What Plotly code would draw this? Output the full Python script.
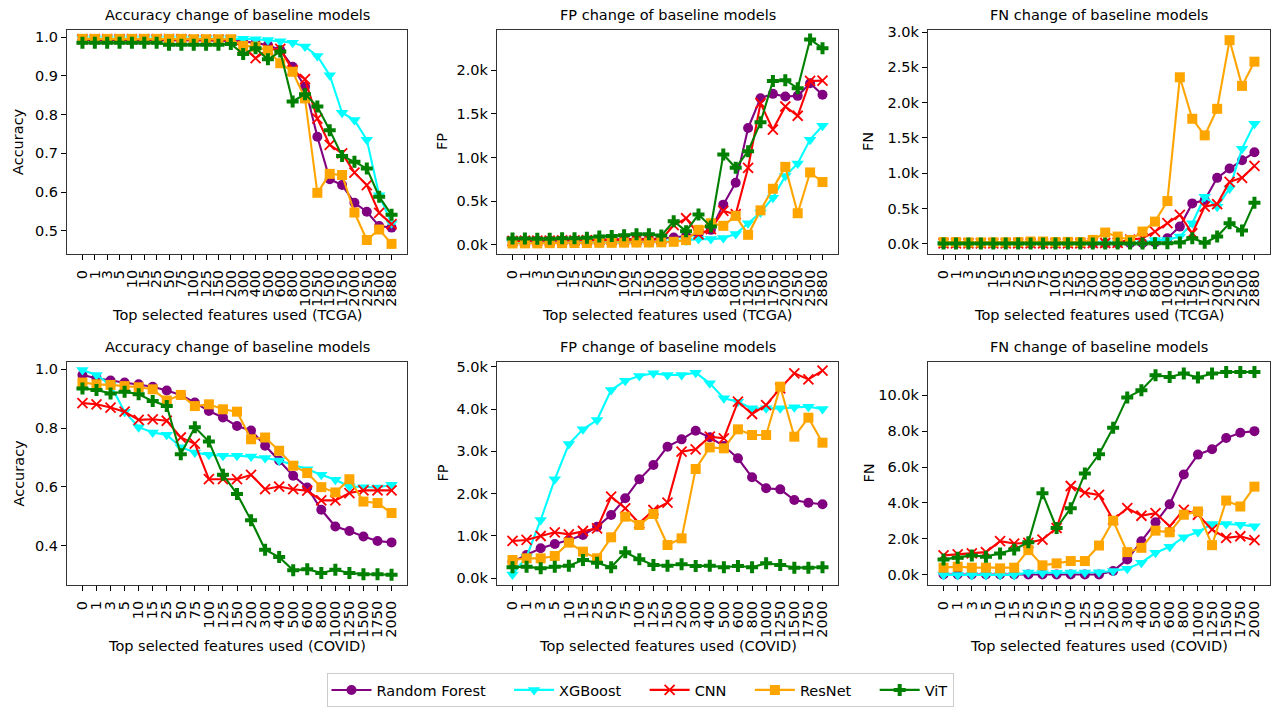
import plotly.graph_objects as go

# ---------------- data ----------------
tcga_features = ["0", "1", "3", "5", "10", "15", "25", "50", "75", "100", "125", "150", "200",
                 "300", "400", "500", "600", "800", "1000", "1250", "1500", "1750", "2000",
                 "2250", "2500", "2880"]
covid_features = ["0", "1", "3", "5", "10", "15", "25", "50", "75", "100", "125", "150", "200",
                  "300", "400", "500", "600", "800", "1000", "1250", "1500", "1750", "2000"]

models = ["Random Forest", "XGBoost", "CNN", "ResNet", "ViT"]

# TCGA accuracy
tcga_acc_rf = [0.993, 0.993, 0.993, 0.993, 0.993, 0.993, 0.993, 0.993, 0.992, 0.992, 0.992, 0.991, 0.991,
               0.990, 0.985, 0.980, 0.967, 0.924, 0.872, 0.743, 0.633, 0.618, 0.572, 0.549, 0.512, 0.508]
tcga_acc_xgb = [0.997, 0.997, 0.997, 0.997, 0.997, 0.997, 0.997, 0.997, 0.997, 0.997, 0.997, 0.997, 0.997,
                0.996, 0.995, 0.993, 0.990, 0.986, 0.976, 0.952, 0.902, 0.805, 0.786, 0.735, 0.592, 0.519]
tcga_acc_cnn = [0.995, 0.995, 0.995, 0.995, 0.995, 0.995, 0.995, 0.995, 0.995, 0.994, 0.994, 0.994, 0.993,
                0.975, 0.946, 0.968, 0.970, 0.915, 0.892, 0.790, 0.722, 0.700, 0.650, 0.618, 0.546, 0.517]
tcga_acc_resnet = [0.996, 0.996, 0.996, 0.996, 0.996, 0.996, 0.996, 0.996, 0.996, 0.995, 0.995, 0.995, 0.995,
                   0.978, 0.976, 0.966, 0.933, 0.911, 0.842, 0.598, 0.647, 0.644, 0.547, 0.476, 0.503, 0.466]
tcga_acc_vit = [0.986, 0.986, 0.986, 0.986, 0.986, 0.986, 0.986, 0.981, 0.981, 0.981, 0.981, 0.981, 0.983,
                0.957, 0.972, 0.943, 0.963, 0.834, 0.853, 0.821, 0.760, 0.693, 0.678, 0.661, 0.588, 0.541]

# TCGA false positives
tcga_fp_rf = [40, 42, 45, 45, 48, 50, 52, 55, 58, 60, 62, 65, 70,
              84, 100, 120, 171, 460, 711, 1338, 1680, 1730, 1700, 1707, 1852, 1719]
tcga_fp_xgb = [22, 22, 24, 24, 25, 25, 26, 27, 28, 28, 30, 30, 32,
               40, 50, 65, 65, 76, 122, 247, 369, 540, 787, 932, 1205, 1365]
tcga_fp_cnn = [45, 46, 48, 48, 50, 50, 52, 54, 55, 56, 58, 60, 62,
               224, 304, 120, 179, 388, 350, 882, 1623, 1320, 1585, 1479, 1878, 1882]
tcga_fp_resnet = [15, 16, 16, 18, 18, 20, 20, 22, 22, 24, 25, 26, 28,
                  34, 53, 171, 247, 217, 331, 114, 395, 642, 893, 361, 829, 719]
tcga_fp_vit = [72, 72, 70, 70, 75, 75, 80, 95, 100, 110, 120, 120, 105,
               270, 156, 346, 209, 1034, 882, 1072, 1403, 1878, 1886, 1795, 2353, 2254]

# TCGA false negatives
tcga_fn_rf = [5, 5, 5, 5, 5, 5, 5, 5, 5, 5, 6, 6, 6,
              6, 7, 8, 10, 20, 80, 244, 573, 620, 935, 1067, 1185, 1297]
tcga_fn_xgb = [3, 3, 3, 3, 3, 3, 3, 3, 3, 3, 3, 3, 3,
               4, 4, 5, 8, 56, 56, 103, 291, 668, 527, 785, 1349, 1702]
tcga_fn_cnn = [8, 8, 8, 8, 8, 8, 8, 8, 8, 8, 8, 8, 10,
               12, 15, 60, 80, 174, 292, 409, 150, 527, 564, 879, 935, 1104]
tcga_fn_resnet = [25, 25, 20, 20, 22, 22, 25, 33, 33, 25, 28, 25, 56,
                  160, 103, 56, 174, 315, 606, 2360, 1772, 1537, 1913, 2886, 2238, 2581]
tcga_fn_vit = [5, 5, 5, 5, 5, 5, 5, 5, 5, 5, 5, 5, 5,
               5, 5, 5, 5, 10, 10, 19, 80, 15, 103, 291, 188, 583]

# COVID accuracy
covid_acc_rf = [0.981, 0.970, 0.962, 0.955, 0.949, 0.941, 0.928, 0.913, 0.887, 0.858, 0.836, 0.807,
                0.792, 0.740, 0.690, 0.638, 0.598, 0.522, 0.465, 0.450, 0.431, 0.416, 0.411]
covid_acc_xgb = [0.998, 0.981, 0.947, 0.856, 0.803, 0.785, 0.777, 0.735, 0.717, 0.709, 0.706, 0.706,
                 0.703, 0.698, 0.690, 0.676, 0.660, 0.641, 0.624, 0.601, 0.599, 0.598, 0.607]
covid_acc_cnn = [0.885, 0.881, 0.870, 0.856, 0.828, 0.830, 0.825, 0.768, 0.747, 0.626, 0.626, 0.626,
                 0.641, 0.592, 0.601, 0.592, 0.587, 0.554, 0.554, 0.579, 0.588, 0.588, 0.588]
covid_acc_resnet = [0.955, 0.949, 0.947, 0.943, 0.939, 0.932, 0.894, 0.913, 0.875, 0.881, 0.864, 0.856,
                    0.762, 0.768, 0.723, 0.672, 0.647, 0.599, 0.581, 0.626, 0.550, 0.545, 0.511]
covid_acc_vit = [0.935, 0.930, 0.918, 0.924, 0.915, 0.892, 0.875, 0.711, 0.803, 0.754, 0.641, 0.576,
                 0.486, 0.386, 0.361, 0.316, 0.320, 0.307, 0.318, 0.307, 0.303, 0.303, 0.301]

# COVID false positives
covid_fp_rf = [394, 551, 709, 811, 906, 1024, 1220, 1496, 1890, 2339, 2677, 3110,
               3283, 3488, 3331, 3126, 2835, 2386, 2126, 2102, 1850, 1787, 1748]
covid_fp_xgb = [90, 512, 1378, 2339, 3173, 3520, 3740, 4449, 4669, 4780, 4843, 4803,
                4803, 4858, 4606, 4252, 4173, 4016, 4016, 4016, 4039, 4055, 4000]
covid_fp_cnn = [882, 906, 1000, 1087, 1039, 1118, 1181, 1929, 1654, 1299, 1614, 1787,
                2992, 3047, 3346, 3307, 4173, 3882, 4094, 4488, 4843, 4701, 4906]
covid_fp_resnet = [433, 472, 472, 528, 843, 630, 472, 969, 1457, 1260, 1520, 787,
                   945, 2583, 3094, 3071, 3520, 3386, 3386, 4528, 3346, 3795, 3205]
covid_fp_vit = [260, 276, 236, 276, 299, 433, 370, 260, 614, 449, 315, 299,
                331, 291, 299, 260, 291, 260, 354, 315, 252, 252, 260]

# COVID false negatives
covid_fn_rf = [20, 20, 20, 20, 20, 20, 20, 20, 20, 20, 20, 20,
               220, 864, 1875, 2923, 3934, 5588, 6691, 6985, 7610, 7904, 7996]
covid_fn_xgb = [0, 0, 0, 0, 0, 0, 130, 110, 120, 130, 140, 150,
                220, 349, 680, 1232, 1562, 2096, 2390, 2831, 2831, 2794, 2702]
covid_fn_cnn = [1085, 1140, 1195, 1268, 1875, 1746, 1783, 1967, 2610, 4945, 4577, 4449,
                3070, 3713, 3290, 3438, 2702, 3621, 3346, 2518, 2059, 2151, 1930]
covid_fn_resnet = [404, 460, 404, 404, 368, 404, 1379, 533, 643, 772, 772, 1636,
                   3015, 1268, 1507, 2463, 2371, 3346, 3529, 1654, 4136, 3805, 4908]
covid_fn_vit = [864, 956, 1085, 1011, 1195, 1415, 1820, 4540, 2610, 3713, 5643, 6710,
                8180, 9871, 10276, 11103, 11011, 11195, 10974, 11195, 11287, 11287, 11287]

# tick values of the y axes
acc_ticks_tcga = [0.5, 0.6, 0.7, 0.8, 0.9, 1.0]
acc_ticks_covid = [0.4, 0.6, 0.8, 1.0]
fp_ticks_tcga = [0, 500, 1000, 1500, 2000]
fn_ticks_tcga = [0, 500, 1000, 1500, 2000, 2500, 3000]
fp_ticks_covid = [0, 1000, 2000, 3000, 4000, 5000]
fn_ticks_covid = [0, 2000, 4000, 6000, 8000, 10000]

# ---------------- styling ----------------
W, H = 1274, 707
FONT = "DejaVu Sans"
FS = 14.5
NBSP = "\u00a0"

styles = {
    "Random Forest": dict(color="purple", symbol="circle", size=10),
    "XGBoost": dict(color="cyan", symbol="triangle-down", size=11),
    "CNN": dict(color="red", symbol="x-thin", size=10),
    "ResNet": dict(color="orange", symbol="square", size=10),
    "ViT": dict(color="green", symbol="cross", size=10),
}


def px_x(x):
    return x / W


def px_y(y):
    return 1 - y / H


# plot areas in pixels: (left, right, top, bottom)
cols_px = [(67, 407), (497, 838), (928, 1270)]
rows_px = [(30, 254), (362, 585)]

panels = [
    (0, 0, tcga_features,
     [tcga_acc_rf, tcga_acc_xgb, tcga_acc_cnn, tcga_acc_resnet, tcga_acc_vit],
     [0.4398, 1.0189], acc_ticks_tcga, "acc", "Accuracy", "Top selected features used (TCGA)",
     "Accuracy change of baseline models"),
    (0, 1, tcga_features,
     [tcga_fp_rf, tcga_fp_xgb, tcga_fp_cnn, tcga_fp_resnet, tcga_fp_vit],
     [-106, 2462], fp_ticks_tcga, "k", "FP", "Top selected features used (TCGA)",
     "FP change of baseline models"),
    (0, 2, tcga_features,
     [tcga_fn_rf, tcga_fn_xgb, tcga_fn_cnn, tcga_fn_resnet, tcga_fn_vit],
     [-144, 3030], fn_ticks_tcga, "k", "FN", "Top selected features used (TCGA)",
     "FN change of baseline models"),
    (1, 0, covid_features,
     [covid_acc_rf, covid_acc_xgb, covid_acc_cnn, covid_acc_resnet, covid_acc_vit],
     [0.266, 1.025], acc_ticks_covid, "acc", "Accuracy", "Top selected features used (COVID)",
     "Accuracy change of baseline models"),
    (1, 1, covid_features,
     [covid_fp_rf, covid_fp_xgb, covid_fp_cnn, covid_fp_resnet, covid_fp_vit],
     [-158, 5111], fp_ticks_covid, "k", "FP", "Top selected features used (COVID)",
     "FP change of baseline models"),
    (1, 2, covid_features,
     [covid_fn_rf, covid_fn_xgb, covid_fn_cnn, covid_fn_resnet, covid_fn_vit],
     [-560, 11840], fn_ticks_covid, "k", "FN", "Top selected features used (COVID)",
     "FN change of baseline models"),
]

fig = go.Figure()
annotations = []
layout_axes = {}

for idx, (r, c, cats, series, yrange, yticks, kind, ylabel, xlabel, title) in enumerate(panels):
    n = idx + 1
    xa = "x" if n == 1 else f"x{n}"
    ya = "y" if n == 1 else f"y{n}"
    xkey = "xaxis" if n == 1 else f"xaxis{n}"
    ykey = "yaxis" if n == 1 else f"yaxis{n}"
    left, right = cols_px[c]
    top, bottom = rows_px[r]

    for name, vals in zip(models, series):
        st = styles[name]
        marker = dict(color=st["color"], symbol=st["symbol"], size=st["size"])
        if st["symbol"] == "x-thin":
            marker["line"] = dict(color=st["color"], width=1.8)
        else:
            marker["line"] = dict(width=0)
        # legend labels carry a little trailing space so entries sit apart
        label = name if name == models[-1] else name + NBSP * 4
        fig.add_trace(go.Scatter(
            x=cats, y=vals, mode="lines+markers", name=label,
            line=dict(color=st["color"], width=2.1),
            marker=marker, xaxis=xa, yaxis=ya,
            showlegend=(n == 1), legendgroup=name,
        ))

    if kind == "acc":
        ticktext = [f"{v:.1f}" for v in yticks]
    else:
        ticktext = [f"{v / 1000:.1f}k" for v in yticks]

    nc = len(cats)
    pad = (nc - 1) * 0.05
    layout_axes[xkey] = dict(
        domain=[px_x(left), px_x(right)], anchor=ya,
        type="category", categoryorder="array", categoryarray=cats,
        tickmode="array", tickvals=cats, ticktext=cats,
        range=[-pad, nc - 1 + pad],
        tickangle=-90, ticks="outside", ticklen=5, tickwidth=1, tickcolor="black",
        ticklabelstandoff=4,
        showline=True, linecolor="#333333", linewidth=1.2, mirror=True,
        showgrid=False, zeroline=False, automargin=False,
        tickfont=dict(family=FONT, size=FS, color="black"),
    )
    layout_axes[ykey] = dict(
        domain=[px_y(bottom), px_y(top)], anchor=xa,
        range=yrange, tickmode="array", tickvals=yticks, ticktext=ticktext,
        ticks="outside", ticklen=5, tickwidth=1, tickcolor="black",
        showline=True, linecolor="#333333", linewidth=1.2, mirror=True,
        showgrid=False, zeroline=False, automargin=False,
        tickfont=dict(family=FONT, size=FS, color="black"),
    )

    cx = (left + right) / 2
    annotations.append(dict(
        text=title, x=px_x(cx), y=px_y(top - 15), xref="paper", yref="paper",
        xanchor="center", yanchor="middle", showarrow=False,
        font=dict(family=FONT, size=FS, color="black"),
    ))
    annotations.append(dict(
        text=xlabel, x=px_x(cx), y=px_y(bottom + 61), xref="paper", yref="paper",
        xanchor="center", yanchor="middle", showarrow=False,
        font=dict(family=FONT, size=FS, color="black"),
    ))
    ylab_x = [18, 442, 868][c]
    annotations.append(dict(
        text=ylabel, x=px_x(ylab_x), y=px_y((top + bottom) / 2), xref="paper", yref="paper",
        xanchor="center", yanchor="middle", showarrow=False, textangle=-90,
        font=dict(family=FONT, size=FS, color="black"),
    ))

fig.update_layout(
    width=W, height=H,
    margin=dict(l=0, r=0, t=0, b=0),
    paper_bgcolor="white", plot_bgcolor="white",
    font=dict(family=FONT, size=FS, color="black"),
    annotations=annotations,
    legend=dict(
        orientation="h", x=px_x(640), y=px_y(690), xanchor="center", yanchor="middle",
        bordercolor="#cccccc", borderwidth=1, bgcolor="white",
        font=dict(family=FONT, size=FS, color="black"),
        itemwidth=40,
    ),
    **layout_axes,
)

fig.write_html("out.html")
